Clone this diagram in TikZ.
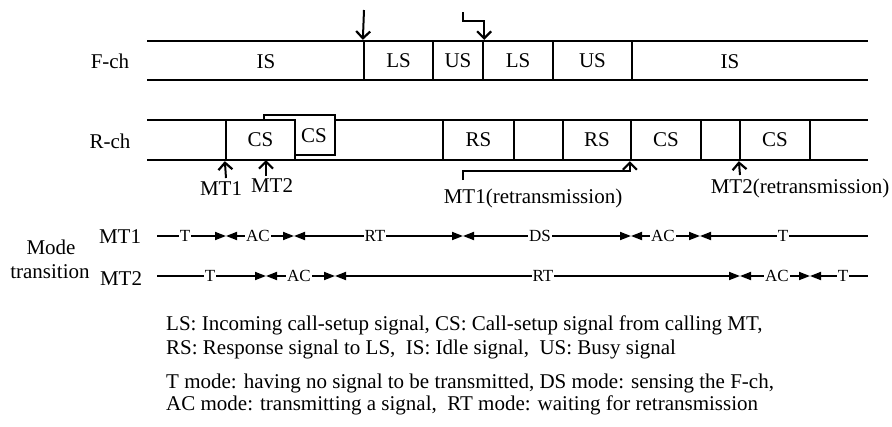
\documentclass[tikz,border=0pt]{standalone}
\usepackage{fontspec}
\setmainfont{Liberation Serif}
\usetikzlibrary{arrows.meta}

\newcommand\lblsize{\fontsize{21}{25}\selectfont}
\newcommand\modesize{\fontsize{17}{20}\selectfont}

\begin{document}
\begin{tikzpicture}[x=1pt,y=-1pt,
  chan/.style={line width=1.8pt},
  sigbox/.style={draw, line width=2.3pt, fill=white, inner sep=0pt, font=\lblsize},
  lbl/.style={inner sep=0pt, font=\lblsize},
  ptr/.style={line width=2pt, -{Straight Barb[length=7pt,width=14pt,line width=2.2pt]}},
  modeline/.style={line width=1.8pt},
  tri/.style={{Triangle[length=11pt,width=8pt]}-{Triangle[length=11pt,width=8pt]}},
  trir/.style={-{Triangle[length=11pt,width=8pt]}},
  tril/.style={{Triangle[length=11pt,width=8pt]}-},
  mlabel/.style={fill=white, inner sep=1pt, font=\modesize},
  legend/.style={anchor=base west, inner sep=0pt, font=\lblsize}
]
\useasboundingbox (0,0) rectangle (892,426);

% ---------------- forward channel ----------------
\coordinate (fa) at (147,41);  \coordinate (fb) at (868,41);
\coordinate (fc) at (147,80);  \coordinate (fd) at (868,80);
\draw[chan] (fa) -- (fb);
\draw[chan] (fc) -- (fd);
\node[lbl] (fch) at (110,61) {F-ch};
\node[lbl] (fis1) at (266,62) {IS};
\node[lbl] (fis2) at (730,62) {IS};
\node[sigbox, minimum width=69pt, minimum height=39pt] (fls1) at (398.5,60.5) {LS};
\node[sigbox, minimum width=50pt, minimum height=39pt] (fus1) at (458,60.5) {US};
\node[sigbox, minimum width=70pt, minimum height=39pt] (fls2) at (518,60.5) {LS};
\node[sigbox, minimum width=79pt, minimum height=39pt] (fus2) at (592.5,60.5) {US};

% incoming call indications
\coordinate (in1) at (364,10);
\coordinate (in2) at (463,12);
\draw[ptr] (in1) -- (fls1.north west);
\draw[ptr] (in2) -- ++(0,9) -| (fus1.north east);

% ---------------- reverse channel ----------------
\coordinate (ra) at (147,120); \coordinate (rb) at (868,120);
\coordinate (rc) at (147,160); \coordinate (rd) at (868,160);
\draw[chan] (ra) -- (rb);
\draw[chan] (rc) -- (rd);
\node[lbl] (rch) at (110,141) {R-ch};
\node[sigbox, minimum width=71pt, minimum height=40pt] (rcs2b) at (299.5,135) {};
\node[lbl] (rcs2l) at (314,136) {CS};
\node[sigbox, minimum width=69pt, minimum height=40pt] (rcs1) at (260.5,140) {CS};
\node[sigbox, minimum width=71pt, minimum height=40pt] (rrs1) at (478.5,140) {RS};
\node[sigbox, minimum width=68pt, minimum height=40pt] (rrs2) at (597,140) {RS};
\node[sigbox, minimum width=70pt, minimum height=40pt] (rcs3) at (666,140) {CS};
\node[sigbox, minimum width=70pt, minimum height=40pt] (rcs4) at (775,140) {CS};

% transmission starts of the mobile terminals
\node[lbl] (mt1) at (221,189) {MT1};
\node[lbl] (mt2) at (272,186) {MT2};
\coordinate (u1) at (226,178);
\coordinate (u2) at (266,176);
\coordinate (u2t) at (266,160);
\draw[ptr] (u1) -- (rcs1.south west);
\draw[ptr] (u2) -- (u2t);

\node[lbl] (mt1r) at (533,198) {MT1(retransmission)};
\node[lbl] (mt2r) at (800,188) {MT2(retransmission)};
\coordinate (u3) at (463,180);
\coordinate (u4) at (740,175);
\draw[ptr] (u3) -- ++(0,-9) -| (rcs3.south west);
\draw[ptr] (u4) -- (rcs4.south west);

% ---------------- mode transition ----------------
\node[lbl] (mode1) at (51,247) {Mode};
\node[lbl] (mode2) at (50,272) {transition};
\node[lbl] (mt1m) at (120,237) {MT1};
\node[lbl] (mt2m) at (121,279) {MT2};

\foreach \n/\x in {0/157,1/226,2/294,3/463,4/631,5/700,6/868}
  \coordinate (p\n) at (\x,236);
\draw[modeline,trir] (p0) -- (p1);
\draw[modeline,tri]  (p1) -- (p2);
\draw[modeline,tri]  (p2) -- (p3);
\draw[modeline,tri]  (p3) -- (p4);
\draw[modeline,tri]  (p4) -- (p5);
\draw[modeline,tril] (p5) -- (p6);
\node[mlabel] (a1) at (185,236) {T};
\node[mlabel] (a2) at (258,236) {AC};
\node[mlabel] (a3) at (375,236) {RT};
\node[mlabel] (a4) at (540,236) {DS};
\node[mlabel] (a5) at (663,236) {AC};
\node[mlabel] (a6) at (783,236) {T};

\foreach \n/\x in {0/157,1/266,2/335,3/740,4/810,5/868}
  \coordinate (q\n) at (\x,276);
\draw[modeline,trir] (q0) -- (q1);
\draw[modeline,tri]  (q1) -- (q2);
\draw[modeline,tri]  (q2) -- (q3);
\draw[modeline,tri]  (q3) -- (q4);
\draw[modeline,tril] (q4) -- (q5);
\node[mlabel] (b1) at (210,276) {T};
\node[mlabel] (b2) at (299,276) {AC};
\node[mlabel] (b3) at (543,276) {RT};
\node[mlabel] (b4) at (777,276) {AC};
\node[mlabel] (b5) at (843,276) {T};

% ---------------- legend ----------------
\node[legend] (l1) at (166,330) {LS: Incoming call-setup signal, CS: Call-setup signal from calling MT,};
\node[legend] (l2) at (166,354) {RS: Response signal to LS,\ \ IS: Idle signal,\ \ US: Busy signal};
\node[legend] (l3) at (166,388) {T mode: having no signal to be transmitted, DS mode: sensing the F-ch,};
\node[legend] (l4) at (166,410) {AC mode: transmitting a signal,\ \ RT mode: waiting for retransmission};
\end{tikzpicture}
\end{document}
